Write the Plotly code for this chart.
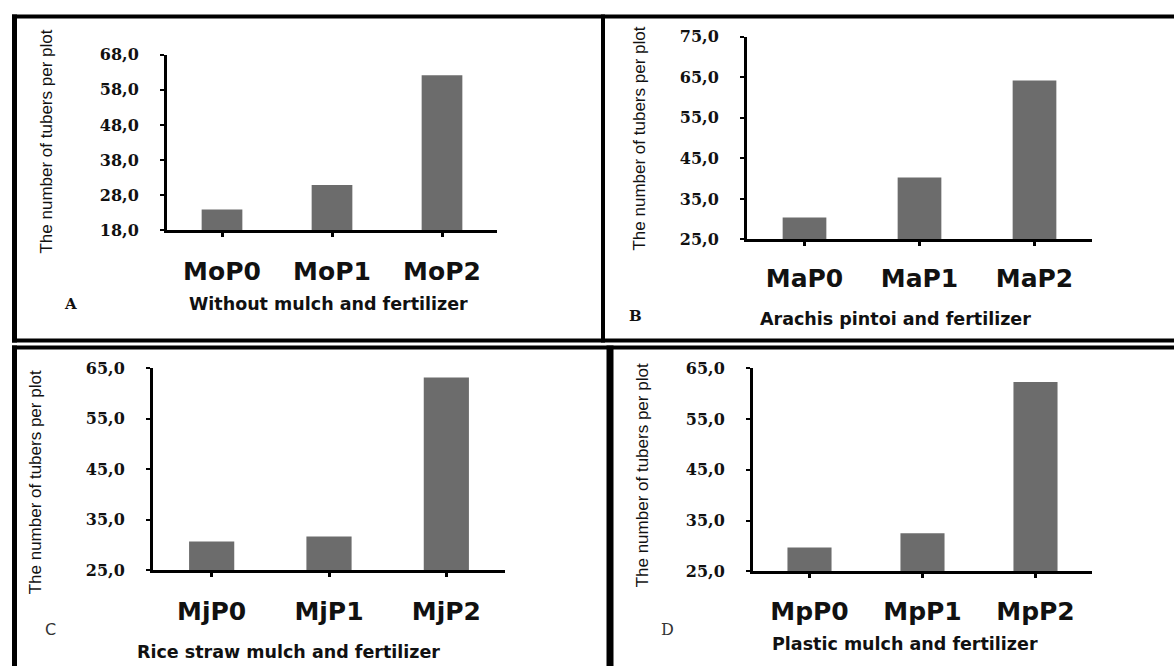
import plotly.graph_objects as go

# ---------------- data ----------------
cats_A = ["MoP0", "MoP1", "MoP2"]
vals_A = [24.0, 30.9, 62.1]
cats_B = ["MaP0", "MaP1", "MaP2"]
vals_B = [30.4, 40.3, 64.2]
cats_C = ["MjP0", "MjP1", "MjP2"]
vals_C = [30.7, 31.7, 63.2]
cats_D = ["MpP0", "MpP1", "MpP2"]
vals_D = [29.7, 32.5, 62.3]

yrange_A = [18, 68]
yrange_B = [25, 75]
yrange_C = [25, 65]
yrange_D = [25, 65]

letters = ["A", "B", "C", "D"]
subtitles = ["Without mulch and fertilizer", "Arachis pintoi and fertilizer",
             "Rice straw mulch and fertilizer", "Plastic mulch and fertilizer"]
ytitle = "The number of tubers per plot"

# ---------------- layout helpers ----------------
W, H = 1174, 666
def px(x):
    return x / W
def py(y):
    # vertical pixel -> paper, with a small calibration for the capture
    yy = (y - 7.4) / 0.972
    return 1 - yy / H

BAR = "#6c6c6c"
TICKFONT = dict(family="DejaVu Serif", size=16, color="#111", weight="bold")
CATFONT = dict(family="DejaVu Sans", size=25, color="#111", weight="bold")
TITLEFONT = dict(family="Liberation Sans, Arial, sans-serif", size=17, color="#111")
SUBFONT = dict(family="DejaVu Sans", size=17.5, color="#111", weight="bold")

panels = [
    dict(c=cats_A, v=vals_A, yr=yrange_A, box=(167, 497, 53, 229), bw=0.37,
         letter=(70, 303, dict(family="DejaVu Serif", size=15, color="#111", weight="bold")),
         sub=(328, 303), yt=(47, 140), std=13),
    dict(c=cats_B, v=vals_B, yr=yrange_B, box=(747, 1092, 35, 238), bw=0.38,
         letter=(635, 315, dict(family="DejaVu Serif", size=15, color="#111", weight="bold")),
         sub=(895, 318), yt=(640, 137), std=11),
    dict(c=cats_C, v=vals_C, yr=yrange_C, box=(153, 505, 367, 569), bw=0.385,
         letter=(50, 628, dict(family="DejaVu Sans", size=16, color="#333")),
         sub=(288, 651), yt=(35, 481), std=13),
    dict(c=cats_D, v=vals_D, yr=yrange_D, box=(753, 1092, 367, 570), bw=0.39,
         letter=(667, 628, dict(family="DejaVu Serif", size=16, color="#333")),
         sub=(905, 643), yt=(642, 474), std=12),
]

fig = go.Figure()
annotations = []
for i, p in enumerate(panels):
    n = "" if i == 0 else str(i + 1)
    xa, ya = "x" + n, "y" + n
    fig.add_trace(go.Bar(x=p["c"], y=p["v"], width=p["bw"], marker=dict(color=BAR, line=dict(width=0)),
                         xaxis=xa, yaxis=ya, showlegend=False, hoverinfo="x+y"))
    x0, x1, y0, y1 = p["box"]
    fig.layout["xaxis" + n] = dict(
        domain=[px(x0), px(x1)], anchor=ya, type="category", range=[-0.5, 2.5],
        showline=True, linecolor="black", linewidth=3, ticks="outside", ticklen=4,
        tickwidth=3, tickcolor="black", tickfont=CATFONT, ticklabelstandoff=p["std"],
        showgrid=False, zeroline=False, fixedrange=True)
    fig.layout["yaxis" + n] = dict(
        domain=[py(y1), py(y0)], anchor=xa, range=p["yr"], tick0=p["yr"][0], dtick=10,
        tickformat=".1f", showline=True, linecolor="black", linewidth=3,
        ticks="outside", ticklen=4, tickwidth=2, tickcolor="black",
        tickfont=TICKFONT, ticklabelstandoff=18,
        showgrid=False, zeroline=False, fixedrange=True)
    lx, ly, lf = p["letter"]
    annotations.append(dict(text=letters[i], x=px(lx), y=py(ly), xref="paper", yref="paper",
                            showarrow=False, font=lf, xanchor="center", yanchor="middle"))
    sx, sy = p["sub"]
    annotations.append(dict(text=subtitles[i], x=px(sx), y=py(sy), xref="paper", yref="paper",
                            showarrow=False, font=SUBFONT, xanchor="center", yanchor="middle"))
    tx, ty = p["yt"]
    annotations.append(dict(text=ytitle, x=px(tx), y=py(ty), xref="paper", yref="paper",
                            showarrow=False, font=TITLEFONT, textangle=-90,
                            xanchor="center", yanchor="middle"))

# frame lines (in pixels converted to paper)
def hline(y, xa, xb, w):
    return dict(type="line", xref="paper", yref="paper", x0=px(xa), x1=px(xb), y0=py(y), y1=py(y),
                line=dict(color="black", width=w))
def vline(x, ya, yb, w):
    return dict(type="line", xref="paper", yref="paper", x0=px(x), x1=px(x), y0=py(ya), y1=py(yb),
                line=dict(color="black", width=w))

shapes = [
    hline(15, 12, 1174, 4),
    hline(339, 12, 1174, 4),
    hline(346, 12, 1174, 4),
    vline(14.5, 13, 341, 5),
    vline(14.5, 344, 680, 5),
    vline(603, 13, 341, 4),
    vline(610, 344, 680, 7),
]

fig.update_layout(
    width=W, height=H, margin=dict(l=0, r=0, t=0, b=0),
    paper_bgcolor="white", plot_bgcolor="white",
    separators=",.", annotations=annotations, shapes=shapes,
)

post = (
    "document.documentElement.style.margin='0';"
    "document.documentElement.style.overflow='hidden';"
    "document.body.style.margin='0';document.body.style.overflow='hidden';"
)
fig.write_html("out.html", config={"displayModeBar": False}, post_script=post)
